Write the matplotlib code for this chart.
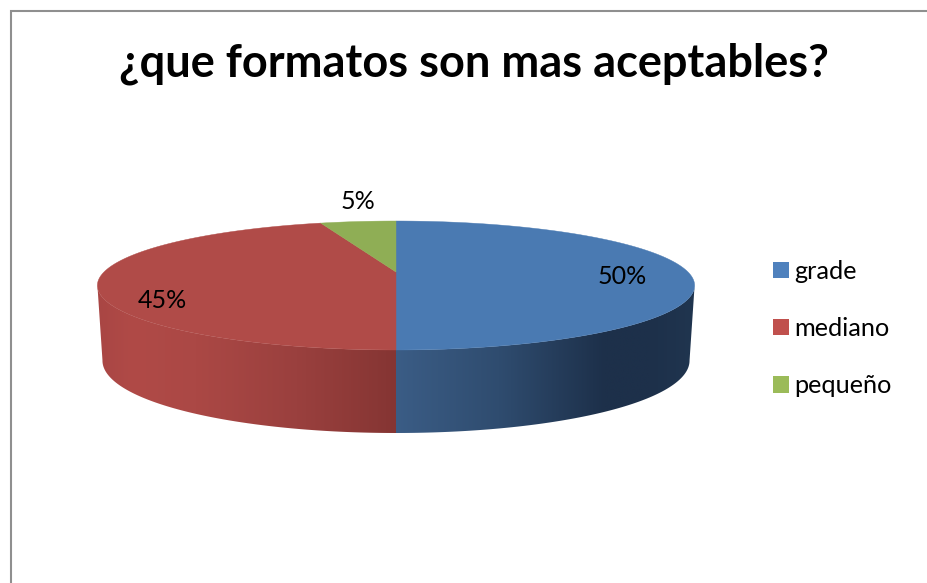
import numpy as np
import matplotlib
matplotlib.use("Agg")
import matplotlib.pyplot as plt
from matplotlib.colors import LinearSegmentedColormap
from matplotlib.patches import Patch, Polygon

plt.rcParams['font.family'] = ['Lato', 'DejaVu Sans']

title = '¿que formatos son mas aceptables?'
categories = ['grade', 'mediano', 'pequeño']
values = [50, 45, 5]

top_colors = ['#4a7ab2', '#b04b48', '#8fae55']
legend_colors = ['#4f81bd', '#c0504d', '#9bbb59']
# side shading, left to right in screen x
side_shades = {
    0: [(0, '#3b5d86'), (0.35, '#2f4c6f'), (0.7, '#1d304a'), (0.85, '#1d304a'), (1, '#20354f')],
    1: [(0, '#a94644'), (0.12, '#b04a47'), (0.33, '#ab4845'), (0.67, '#9a403e'), (1, '#853533')],
}

# perspective of the disc, in picture pixels
cx = 396.0
half_w = 292.0
pinch = 0.2093


def project(theta, r=1.0):
    u = r * np.cos(theta)
    v = r * np.sin(theta)
    w = 1 + pinch * v
    return cx + half_w * u / w, (272 - 4.74 * v) / w


def project_low(theta):
    x, y = project(theta)
    v = np.sin(theta)
    return cx + (x - cx) * 0.983, y + 73 - 10 * v


fig = plt.figure(figsize=(9.27, 5.83), dpi=100)
ax = fig.add_axes([0, 0, 1, 1])

# angles of the slices, clockwise from the top
ends = 90 - 3.6 * np.cumsum(values)
starts = np.r_[90, ends[:-1]]

front_hi = np.degrees(-np.arcsin(pinch))
front_lo = -180 - front_hi

for i in range(len(values)):
    hi = min(starts[i], front_hi)
    lo = max(ends[i], front_lo)
    if hi <= lo:
        continue
    # small overlap so no white seam shows between the sides
    th = np.radians(np.linspace(hi, lo - 0.3, 200))
    x1, y1 = project(th)
    x2, y2 = project_low(th)
    pts = np.c_[np.r_[x1, x2[::-1]], np.r_[y1, y2[::-1]]]
    side = Polygon(pts, closed=True, fc='none', ec='none')
    ax.add_patch(side)
    cmap = LinearSegmentedColormap.from_list('side%d' % i, side_shades[i])
    grad = np.linspace(0, 1, 256).reshape(1, -1)
    img = ax.imshow(grad, cmap=cmap, aspect='auto',
                    extent=[pts[:, 0].min(), pts[:, 0].max(), pts[:, 1].max(), pts[:, 1].min()],
                    interpolation='bilinear')
    img.set_clip_path(side)

for i in range(len(values)):
    th = np.radians(np.linspace(starts[i], ends[i], 300))
    x, y = project(th)
    c0 = project(0.0, 0.0)
    pts = np.c_[np.r_[c0[0], x], np.r_[c0[1], y]]
    ax.add_patch(Polygon(pts, closed=True, fc=top_colors[i], ec=top_colors[i], lw=0.3))

ax.set_xlim(0, 927)
ax.set_ylim(583, 0)
ax.axis('off')

# chart border runs off the crop on the right and at the bottom
ax.plot([11.5, 11.5, 927], [583, 10.5, 10.5], color='#8f8f8f', lw=1.5, solid_joinstyle='miter')

ax.text(474, 63.5, title, fontsize=32.5, fontweight='bold', color='black', ha='center', va='center')

label_pos = [(622, 276), (162, 300), (358, 201.5)]
for i in range(len(values)):
    ax.text(label_pos[i][0], label_pos[i][1], '%d%%' % values[i], fontsize=18, color='black',
            ha='center', va='center')

handles = [Patch(fc=legend_colors[i], ec='none') for i in range(len(categories))]
ax.legend(handles, categories, loc='center left', bbox_to_anchor=(773 / 927, 1 - 328.5 / 583),
          frameon=False, fontsize=18.2, labelspacing=1.36, handlelength=0.62, handleheight=0.62,
          handletextpad=0.22, borderpad=0, borderaxespad=0)

fig.savefig('out.png', dpi=100)
